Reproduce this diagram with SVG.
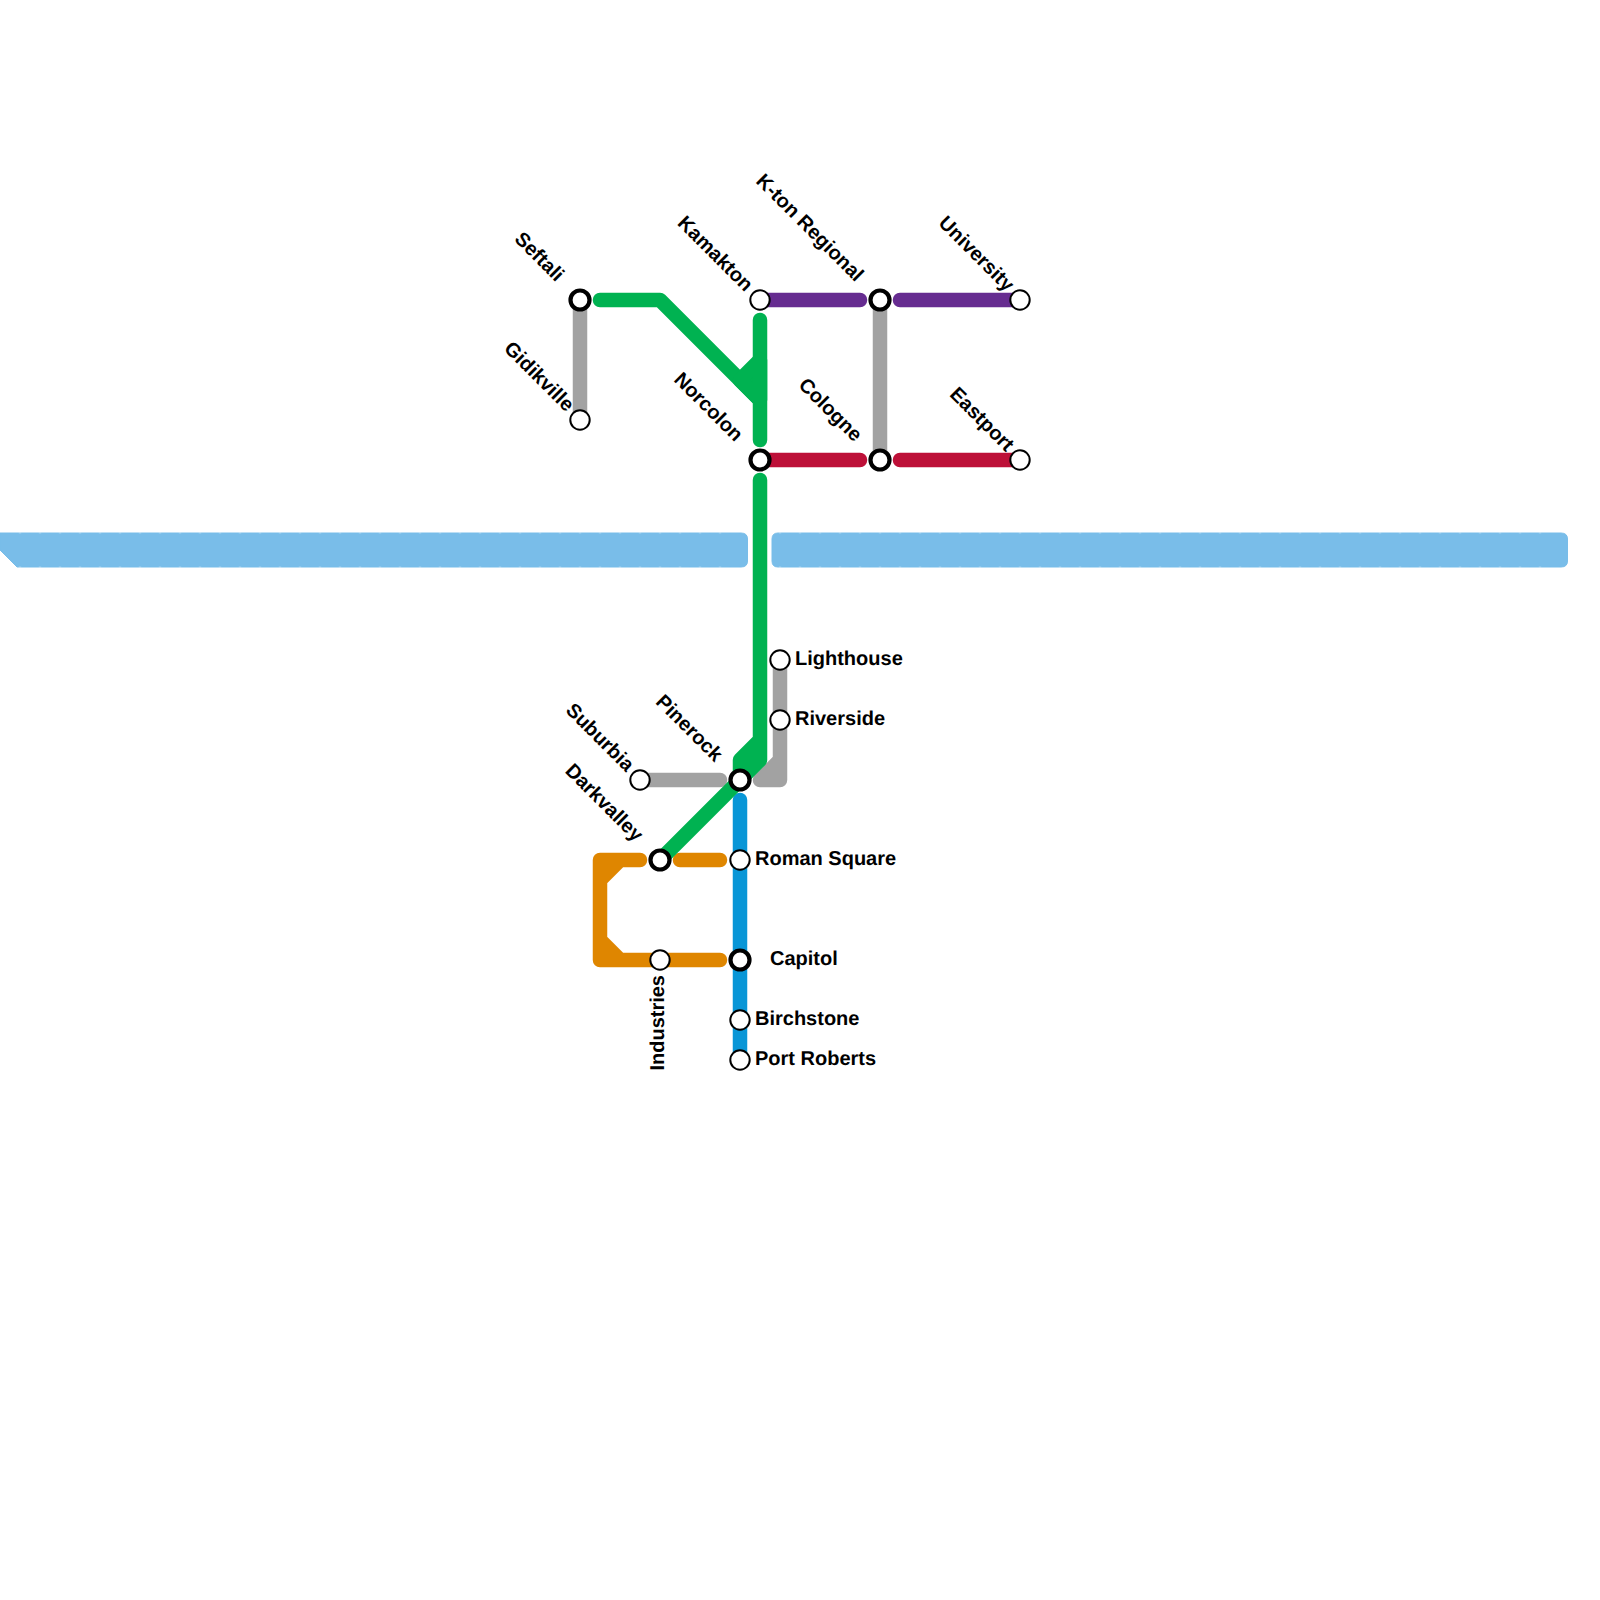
<svg xmlns="http://www.w3.org/2000/svg" width="1600" height="1600" viewBox="0 0 1600 1600">
<style>
text{font-family:"Liberation Sans",Arial,sans-serif;font-weight:700;font-size:20px;fill:#000;text-rendering:geometricPrecision}
.l{fill:none;stroke-width:14.500;stroke-linecap:round;stroke-linejoin:round}
.g{stroke:#00b251}.a{stroke:#a2a2a2}.p{stroke:#662c90}.r{stroke:#bd1038}.o{stroke:#df8600}.b{stroke:#0896d7}
.s{fill:#fff;stroke:#000;stroke-width:2}
.x{fill:#fff;stroke:#000;stroke-width:4.200}
.e{text-anchor:end}
.n{fill:none;stroke:#fff;stroke-opacity:.35;stroke-width:1;stroke-dasharray:2.500 17.500}
</style>
<g id="connectors">
<path id="water" d="M0 533H741Q747.500 533 747.500 539V561Q747.500 567 741 567H17L0 550ZM778 533H1561Q1567.500 533 1567.500 539V561Q1567.500 567 1561 567H778Q772 567 772 561V539Q772 533 778 533Z" fill="#79bde9" stroke="#79bde9" stroke-width="1"/>
<path class="n" d="M18.750 533H735M778.750 533H1555M18.750 567H735M778.750 567H1555"/>
<path class="l a" d="M580 300V420"/>
<path class="l a" d="M880 300V460"/>
<path class="l a" d="M640 780H720"/>
<path class="l a" d="M780 660V780H760L780 760"/>
<path class="l p" d="M760 300H860M900 300H1020"/>
<path class="l r" d="M760 460H860M900 460H1020"/>
<path class="l o" d="M720 860H680M640 860H600V960H720M620 860L600 880M600 940L620 960"/>
<path class="l b" d="M740 800V1060"/>
<path class="l g" d="M600 300H660L760 400M760 320V440"/>
<path class="l g" style="fill:#00b251" d="M740 380L760 360V400Z"/>
<path class="l g" d="M760 480V760L740 780L660 860M760 740L740 760V780"/>
</g>
<g id="seftali"><circle class="x" cx="580" cy="300" r="9.500"/><text class="e" transform="translate(556 282.500) rotate(45)">Seftali</text></g>
<g id="gidikville"><circle class="s" cx="580" cy="420" r="9.700"/><text class="e" transform="translate(566 412.500) rotate(45)">Gidikville</text></g>
<g id="kamakton"><circle class="s" cx="760" cy="300" r="9.700"/><text class="e" transform="translate(745 292.500) rotate(45)">Kamakton</text></g>
<g id="k-ton-regional"><circle class="x" cx="880" cy="300" r="9.500"/><text class="e" transform="translate(855.500 282.500) rotate(45)">K-ton Regional</text></g>
<g id="university"><circle class="s" cx="1020" cy="300" r="9.700"/><text class="e" transform="translate(1006 292.500) rotate(45)">University</text></g>
<g id="norcolon"><circle class="x" cx="760" cy="460" r="9.500"/><text class="e" transform="translate(735 442.500) rotate(45)">Norcolon</text></g>
<g id="cologne"><circle class="x" cx="880" cy="460" r="9.500"/><text class="e" transform="translate(854 442.500) rotate(45)">Cologne</text></g>
<g id="eastport"><circle class="s" cx="1020" cy="460" r="9.700"/><text class="e" transform="translate(1006 452.500) rotate(45)">Eastport</text></g>
<g id="lighthouse"><circle class="s" cx="780" cy="660" r="9.700"/><text x="795" y="665">Lighthouse</text></g>
<g id="riverside"><circle class="s" cx="780" cy="720" r="9.700"/><text x="795" y="725">Riverside</text></g>
<g id="pinerock"><circle class="x" cx="740" cy="780" r="9.500"/><text class="e" transform="translate(714.500 762.500) rotate(45)">Pinerock</text></g>
<g id="suburbia"><circle class="s" cx="640" cy="780" r="9.700"/><text class="e" transform="translate(626 772.500) rotate(45)">Suburbia</text></g>
<g id="darkvalley"><circle class="x" cx="660" cy="860" r="9.500"/><text class="e" transform="translate(635 842.500) rotate(45)">Darkvalley</text></g>
<g id="roman-square"><circle class="s" cx="740" cy="860" r="9.700"/><text x="755" y="865">Roman Square</text></g>
<g id="industries"><circle class="s" cx="660" cy="960" r="9.700"/><text class="e" transform="translate(664 975) rotate(-90)">Industries</text></g>
<g id="capitol"><circle class="x" cx="740" cy="960" r="9.500"/><text x="770" y="965">Capitol</text></g>
<g id="birchstone"><circle class="s" cx="740" cy="1020" r="9.700"/><text x="755" y="1025">Birchstone</text></g>
<g id="port-roberts"><circle class="s" cx="740" cy="1060" r="9.700"/><text x="755" y="1065">Port Roberts</text></g>
</svg>
